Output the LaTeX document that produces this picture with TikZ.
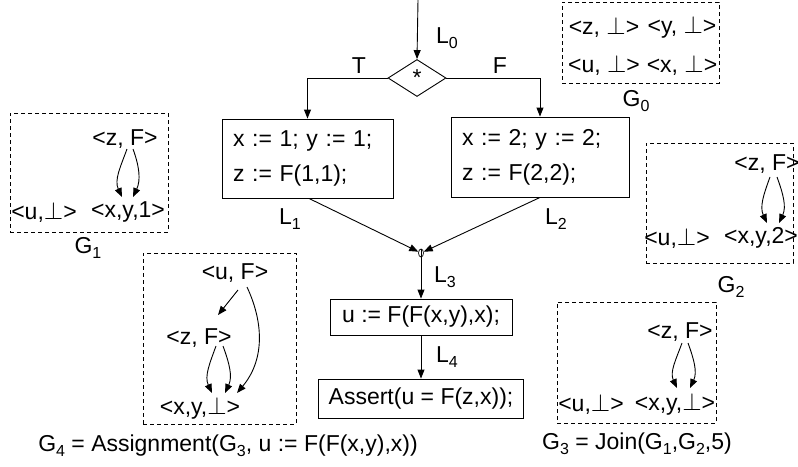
\documentclass[tikz,border=0pt]{standalone}
\usepackage{fontspec}
\setmainfont{Liberation Sans}
\usetikzlibrary{arrows.meta,shapes.geometric,calc}
% lowered, smaller index as used in L_0, G_1, ...
\newcommand{\sub}[1]{\raisebox{-5pt}{\fontsize{16}{16}\selectfont #1}}
\newcommand{\bt}{\ensuremath{\perp}}
\begin{document}
\begin{tikzpicture}[x=1pt,y=-1pt,
  font=\fontsize{23}{27}\selectfont,
  arr/.style={-{Triangle[length=9pt,width=7pt]}, line width=0.9pt},
  box/.style={draw, line width=0.9pt, inner sep=0pt},
  grp/.style={draw, dash pattern=on 4pt off 3pt, line width=0.8pt, inner sep=0pt},
  lbl/.style={inner sep=1pt},
]
\useasboundingbox (0,0) rectangle (798,466);

% ---------------- control flow ----------------
\coordinate (entry) at (418,0);
\node[diamond, draw, line width=0.9pt, minimum width=58pt, minimum height=37pt, inner sep=0pt] (d) at (417,78) {*};
\draw[arr] (entry) -- (d.north);
\node[lbl] (l0) at (447,38) {L\sub{0}};
\node[lbl] (t) at (359,66) {T};
\node[lbl] (f) at (500,66) {F};

\node[box, align=left, text width=149pt, inner xsep=11pt, minimum height=79pt] (b1) at (307.5,158.5)
  {x := 1; y := 1;\\[8pt]z := F(1,1);};
\node[box, align=left, text width=156pt, inner xsep=11pt, minimum height=80pt] (b2) at (540,157)
  {x := 2; y := 2;\\[8pt]z := F(2,2);};
\draw[arr] (d.west) -| (b1.north);
\draw[arr] (d.east) -| (b2.north);
\node[lbl] (l1) at (290,219) {L\sub{1}};
\node[lbl] (l2) at (556,219) {L\sub{2}};

% join point
\node[ellipse, draw, line width=0.7pt, minimum width=5pt, minimum height=8pt, inner sep=0pt] (phi) at (421,253) {};
\draw[arr] ($(b1.south)+(1.5,0)$) -- (phi);
\draw[arr] (b2.south) -- (phi);

\node[box, minimum width=182pt, minimum height=36pt] (b3) at (421,317) {u := F(F(x,y),x);};
\node[box, minimum width=205pt, minimum height=39pt] (b4) at (421,398.5) {Assert(u = F(z,x));};
\draw[line width=0.7pt] (phi.north) -- (phi.south);
\draw[arr] (phi) -- (b3.north);
\draw[arr] (b3) -- (b4);
\node[lbl] (l3) at (445,277) {L\sub{3}};
\node[lbl] (l4) at (447,357) {L\sub{4}};

% ---------------- G0 ----------------
\node[grp, minimum width=157pt, minimum height=81pt] (g0) at (640.5,42.5) {};
\node[lbl] (g0z) at (604,27) {<z, \bt>};
\node[lbl] (g0y) at (682,27) {<y, \bt>};
\node[lbl] (g0u) at (604,65) {<u, \bt>};
\node[lbl] (g0x) at (682,65) {<x, \bt>};
\node[lbl] (g0l) at (636,101) {G\sub{0}};

% ---------------- G1 ----------------
\node[grp, minimum width=158pt, minimum height=119pt] (g1) at (89,172.5) {};
\node[lbl] (g1z) at (125,139) {<z, F>};
\node[lbl] (g1u) at (44,212) {<u,\bt>};
\node[lbl] (g1x) at (128,212) {<x,y,1>};
\draw[arr] ($(g1z)+(2,10)$) to[out=-110,in=115] ($(g1x)+(-6,-15)$);
\draw[arr] ($(g1z)+(8,10)$) to[out=-70,in=65] ($(g1x)+(5,-15)$);
\node[lbl] (g1l) at (88,248) {G\sub{1}};

% ---------------- G2 ----------------
\node[grp, minimum width=147pt, minimum height=120pt] (g2) at (719.5,203) {};
\node[lbl] (g2z) at (767,164) {<z, F>};
\node[lbl] (g2u) at (677,238) {<u,\bt>};
\node[lbl] (g2x) at (761,238) {<x,y,2>};
\draw[arr] ($(g2z)+(3,13)$) to[out=-110,in=115] ($(g2x)+(6,-15)$);
\draw[arr] ($(g2z)+(10,13)$) to[out=-70,in=65] ($(g2x)+(18,-15)$);
\node[lbl] (g2l) at (731,287) {G\sub{2}};

% ---------------- G3 ----------------
\node[grp, minimum width=159pt, minimum height=121pt] (g3) at (636.5,362.5) {};
\node[lbl] (g3z) at (680,332) {<z, F>};
\node[lbl] (g3u) at (591,404) {<u,\bt>};
\node[lbl] (g3x) at (675,404) {<x,y,\bt>};
\draw[arr] ($(g3z)+(2,11)$) to[out=-110,in=115] ($(g3x)+(2,-16)$);
\draw[arr] ($(g3z)+(8,11)$) to[out=-70,in=65] ($(g3x)+(15,-16)$);
\node[lbl] (g3l) at (637,444) {G\sub{3} = Join(G\sub{1},G\sub{2},5)};

% ---------------- G4 ----------------
\node[grp, minimum width=153pt, minimum height=171pt] (g4) at (219.5,338.5) {};
\node[lbl] (g4u) at (235,273) {<u, F>};
\node[lbl] (g4z) at (199,338) {<z, F>};
\node[lbl] (g4x) at (200,408) {<x,y,\bt>};
\draw[arr] ($(g4u)+(3,17)$) -- ($(g4z)+(19,-23)$);
\draw[arr] ($(g4u)+(12,14)$) to[out=-65,in=50] ($(g4x)+(37,-15)$);
\draw[arr] ($(g4z)+(17,8)$) to[out=-110,in=115] ($(g4x)+(12,-15)$);
\draw[arr] ($(g4z)+(24,8)$) to[out=-70,in=65] ($(g4x)+(25,-15)$);
\node[lbl] (g4l) at (228,446) {G\sub{4} = Assignment(G\sub{3}, u := F(F(x,y),x))};
\end{tikzpicture}
\end{document}
